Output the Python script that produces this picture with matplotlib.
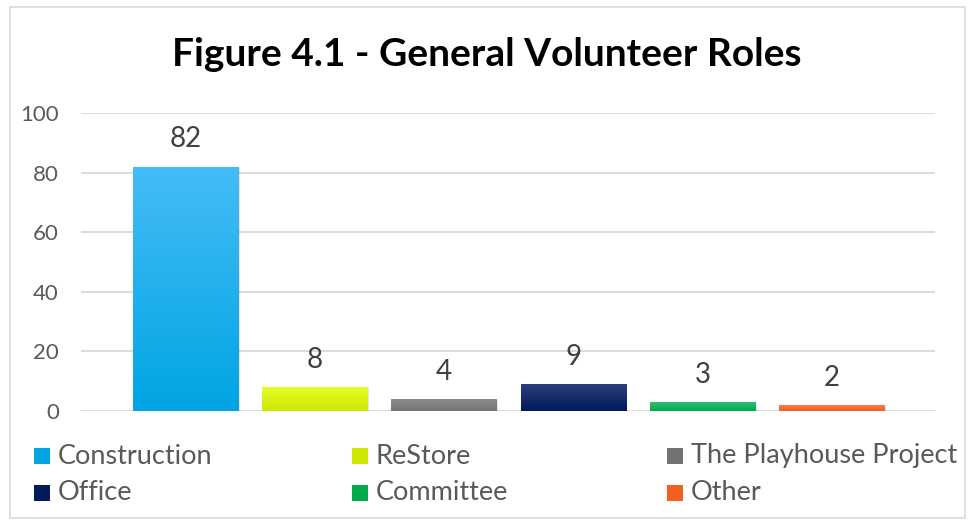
import numpy as np
import matplotlib
matplotlib.use("Agg")
import matplotlib.pyplot as plt
from matplotlib.colors import to_rgb
from matplotlib.patches import Rectangle

plt.rcParams['font.family'] = ['Lato', 'DejaVu Sans']

categories = ["Construction", "ReStore", "The Playhouse Project", "Office", "Committee", "Other"]
values = [82, 8, 4, 9, 3, 2]
top_colors = ["#45bcf7", "#e2ff2a", "#8c8c8c", "#2c3f78", "#2fbf6e", "#ff7a45"]
bottom_colors = ["#00a5e3", "#cfe600", "#737373", "#001a5c", "#00a84e", "#f0601f"]
yticks = [0, 20, 40, 60, 80, 100]

W, H = 974, 523
fig = plt.figure(figsize=(W / 100, H / 100), dpi=100)
fig.patch.set_facecolor("white")
fig.add_artist(Rectangle((10 / W, 5 / H), 955 / W, 511 / H, transform=fig.transFigure,
                         fill=False, edgecolor="#d9d9d9", linewidth=1.2))

ax = fig.add_axes([81 / W, (H - 411) / H, (935 - 81) / W, (411 - 113) / H])
ax.set_xlim(-0.81, 5.8)
ax.set_ylim(0, 100)

width = 0.815
x = np.arange(len(categories))
for xi, v, ct, cb in zip(x, values, top_colors, bottom_colors):
    # soft shadow
    ax.add_patch(Rectangle((xi - width / 2 + 0.012, -0.4), width, v, facecolor="#000000",
                           alpha=0.10, edgecolor="none", zorder=2))
    bar = ax.bar(xi, v, width=width, color=cb, edgecolor="none", zorder=3)[0]
    grad = np.linspace(0, 1, 256)[:, None]
    c0, c1 = np.array(to_rgb(cb)), np.array(to_rgb(ct))
    img = c0[None, None, :] * (1 - grad[:, :, None]) + c1[None, None, :] * grad[:, :, None]
    im = ax.imshow(img, extent=(xi - width / 2, xi + width / 2, 0, v), origin="lower",
                   aspect="auto", zorder=4, interpolation="bilinear")
    im.set_clip_path(bar)
    ax.text(xi, v + 9.2, str(v), ha="center", va="center", fontsize=20, color="#404040", zorder=5)

ax.set_yticks(yticks)
ax.set_yticklabels([str(t) for t in yticks], fontsize=16, color="#595959")
ax.set_xticks([])
ax.tick_params(axis="y", length=0, pad=16)
ax.grid(axis="y", color="#d9d9d9", linewidth=1.3, zorder=0)
ax.set_axisbelow(True)
for s in ax.spines.values():
    s.set_visible(False)

fig.text(487 / W, 1 - 55 / H, "Figure 4.1 - General Volunteer Roles", ha="center", va="center",
         fontsize=28, fontweight="bold", color="#000000")

# legend laid out row by row, three entries per row
col_x = [34, 352, 667]
row_y = [456, 493]
for i, (name, cb, ct) in enumerate(zip(categories, bottom_colors, top_colors)):
    cx = col_x[i % 3]
    cy = row_y[i // 3]
    fig.add_artist(Rectangle((cx / W, 1 - (cy + 8) / H), 16 / W, 16 / H, transform=fig.transFigure,
                             facecolor=cb, edgecolor="none"))
    fig.text((cx + 24) / W, 1 - cy / H, name, ha="left", va="center", fontsize=19.5, color="#595959")

fig.savefig("out.png", dpi=100, facecolor="white")
